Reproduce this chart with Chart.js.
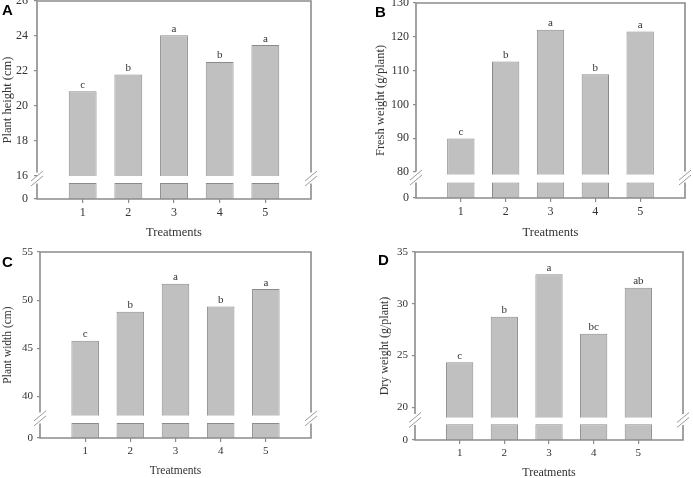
<!DOCTYPE html>
<html><head><meta charset="utf-8">
<script src="https://cdn.jsdelivr.net/npm/chart.js@4.4.0/dist/chart.umd.min.js"></script>
<style>
html,body{margin:0;padding:0;background:#fff;}
#wrap{position:relative;width:693px;height:478px;overflow:hidden;background:#fff;}
canvas{position:absolute;display:block;}
.lbl{position:absolute;font:bold 15px "Liberation Sans",Arial,sans-serif;line-height:15px;color:#000;}
</style></head><body>
<div id="wrap">
  <canvas id="cA" width="346" height="240" style="left:0;top:0"></canvas>
  <canvas id="cB" width="347" height="240" style="left:346px;top:0"></canvas>
  <canvas id="cC" width="346" height="238" style="left:0;top:240px"></canvas>
  <canvas id="cD" width="347" height="238" style="left:346px;top:240px"></canvas>
  <div class="lbl" style="left:2px;top:2px">A</div>
  <div class="lbl" style="left:375px;top:4px">B</div>
  <div class="lbl" style="left:2px;top:254px">C</div>
  <div class="lbl" style="left:378px;top:252px">D</div>
</div>
<script>
// ---- data ----
const treatments = ['1', '2', '3', '4', '5'];

const plantHeight = [20.85, 21.8, 24.05, 22.52, 23.48];
const plantHeightLetters = ['c', 'b', 'a', 'b', 'a'];
const plantHeightTicks = [16, 18, 20, 22, 24, 26];

const freshWeight = [89.9, 112.7, 122.1, 108.9, 121.6];
const freshWeightLetters = ['c', 'b', 'a', 'b', 'a'];
const freshWeightTicks = [80, 90, 100, 110, 120, 130];

const plantWidth = [45.8, 48.8, 51.7, 49.35, 51.15];
const plantWidthLetters = ['c', 'b', 'a', 'b', 'a'];
const plantWidthTicks = [40, 45, 50, 55];

const dryWeight = [24.35, 28.75, 32.85, 27.1, 31.55];
const dryWeightLetters = ['c', 'b', 'a', 'bc', 'ab'];
const dryWeightTicks = [20, 25, 30, 35];

const xTitle = 'Treatments';

// ---- styling / layout ----
const SERIF = '"Liberation Serif","Times New Roman",serif';
const BAR_FILL = '#c0c0c0';
const BAR_EDGE = '#8a8a8a';
const AXIS = '#8c8c8c';
const TEXT = '#333333';

const panels = [
  { id: 'cA', values: plantHeight, letters: plantHeightLetters, ticks: plantHeightTicks, title: 'Plant height (cm)',
    brk: { axisMin: 14.686, gapLow: 15.6, upperMin: 16, max: 26 },
    lay: { yw: 37, xh: 41, top: 1, right: 35 }, tickSize: 12, titleSize: 12.5, yTitlePad: 0, yTickPad: 6, xTitlePad: 0 },
  { id: 'cB', values: freshWeight, letters: freshWeightLetters, ticks: freshWeightTicks, title: 'Fresh weight (g/plant)',
    brk: { axisMin: 72.3, gapLow: 76.9, upperMin: 79.2, max: 130 },
    lay: { yw: 70, xh: 42, top: 3, right: 8 }, tickSize: 12, titleSize: 12.5, yTitlePad: 27.5, yTickPad: 4, xTitlePad: 0 },
  { id: 'cC', values: plantWidth, letters: plantWidthLetters, ticks: plantWidthTicks, title: 'Plant width (cm)',
    brk: { axisMin: 35.7, gapLow: 37.26, upperMin: 38.0, max: 55 },
    lay: { yw: 40, xh: 40, top: 12, right: 35 }, tickSize: 11, titleSize: 11.5, yTitlePad: 1, yTickPad: 4, xTitlePad: 0 },
  { id: 'cD', values: dryWeight, letters: dryWeightLetters, ticks: dryWeightTicks, title: 'Dry weight (g/plant)',
    brk: { axisMin: 16.84, gapLow: 18.35, upperMin: 19.0, max: 35 },
    lay: { yw: 69, xh: 38, top: 12, right: 10 }, tickSize: 11, titleSize: 12, yTitlePad: 31.5, yTickPad: 4, xTitlePad: -2 }
];

// frame with broken left/right axes
const framePlugin = {
  id: 'frame',
  afterDatasetsDraw(chart) {
    const cfg = chart.options.plugins.frame;
    const { ctx, chartArea: { left, right, top, bottom } } = chart;
    const y = chart.scales.y;
    const pUp = y.getPixelForValue(cfg.upperMin);
    const pLow = y.getPixelForValue(cfg.gapLow);
    const mid = (pUp + pLow) / 2 - 1;
    const b0 = mid - 6, b1 = mid + 5;
    ctx.save();
    ctx.strokeStyle = AXIS;
    ctx.lineWidth = 1.6;
    ctx.beginPath();
    ctx.moveTo(left - 0.8, top); ctx.lineTo(right + 0.8, top);
    ctx.moveTo(left - 0.8, bottom); ctx.lineTo(right + 0.8, bottom);
    [left, right].forEach(x => {
      ctx.moveTo(x, top); ctx.lineTo(x, b0);
      ctx.moveTo(x, b1); ctx.lineTo(x, bottom);
    });
    ctx.stroke();
    ctx.lineWidth = 1;
    ctx.strokeStyle = '#9a9a9a';
    ctx.beginPath();
    [left, right].forEach(x => {
      [-2.5, 2.5].forEach(d => {
        ctx.moveTo(x - 6, mid + d + 5);
        ctx.lineTo(x + 6, mid + d - 5);
      });
    });
    ctx.stroke();
    ctx.restore();
  }
};

// significance letters above bars
const lettersPlugin = {
  id: 'sigLetters',
  afterDatasetsDraw(chart) {
    const cfg = chart.options.plugins.sigLetters;
    const { ctx } = chart;
    const meta = chart.getDatasetMeta(0);
    ctx.save();
    ctx.font = cfg.size + 'px ' + SERIF;
    ctx.fillStyle = TEXT;
    ctx.textAlign = 'center';
    ctx.textBaseline = 'alphabetic';
    meta.data.forEach((bar, i) => {
      const t = cfg.letters[i];
      if (!t) return;
      ctx.fillText(t, bar.x, Math.min(bar.y, bar.base) - 3.5);
    });
    ctx.restore();
  }
};

panels.forEach(p => {
  const labels = ['', ...treatments, ''];
  const upper = [null, ...p.values.map(v => [p.brk.upperMin, v]), null];
  const lower = [null, ...p.values.map(() => [p.brk.axisMin, p.brk.gapLow]), null];
  const letters = [null, ...p.letters, null];
  const yTicks = [p.brk.axisMin, ...p.ticks];

  new Chart(document.getElementById(p.id), {
    type: 'bar',
    data: {
      labels,
      datasets: [
        { data: upper, backgroundColor: BAR_FILL, borderColor: BAR_EDGE, borderWidth: 1, grouped: false,
          barPercentage: 1, categoryPercentage: 0.61 },
        { data: lower, backgroundColor: BAR_FILL, borderColor: BAR_EDGE, borderWidth: 1, grouped: false,
          barPercentage: 1, categoryPercentage: 0.61 }
      ]
    },
    options: {
      responsive: false,
      animation: false,
      devicePixelRatio: 1,
      layout: { padding: { left: 0, top: p.lay.top, right: p.lay.right, bottom: 0 } },
      plugins: {
        legend: { display: false },
        tooltip: { enabled: false },
        frame: { upperMin: p.brk.upperMin, gapLow: p.brk.gapLow },
        sigLetters: { letters, size: 11 }
      },
      scales: {
        x: {
          type: 'category',
          offset: false,
          grid: {
            offset: false, drawOnChartArea: false, drawTicks: true, tickLength: 4, lineWidth: 1.2,
            color: ctx => (ctx.index === 0 || ctx.index === labels.length - 1) ? 'rgba(0,0,0,0)' : AXIS
          },
          border: { display: false },
          ticks: { color: TEXT, font: { family: SERIF, size: p.tickSize }, maxRotation: 0, autoSkip: false, padding: 3 },
          title: { display: true, text: xTitle, color: TEXT, font: { family: SERIF, size: p.titleSize, lineHeight: 1.2 },
                   padding: { top: 0, bottom: p.xTitlePad } },
          afterFit(s) { s.height = p.lay.xh; s.paddingLeft = 0; s.paddingRight = 0; }
        },
        y: {
          type: 'linear',
          min: p.brk.axisMin,
          max: p.brk.max,
          afterBuildTicks(s) { s.ticks = yTicks.map(v => ({ value: v })); },
          grid: { drawOnChartArea: false, drawTicks: true, tickLength: 3, color: AXIS, lineWidth: 1.2 },
          border: { display: false },
          ticks: {
            color: TEXT, font: { family: SERIF, size: p.tickSize }, padding: p.yTickPad, autoSkip: false,
            callback: v => (v === p.brk.axisMin ? '0' : String(v))
          },
          title: { display: true, text: p.title, color: TEXT, font: { family: SERIF, size: p.titleSize, lineHeight: 1.2 },
                   padding: { top: p.yTitlePad, bottom: 0 } },
          afterFit(s) { s.width = p.lay.yw; s.paddingTop = 0; s.paddingBottom = 0; }
        }
      }
    },
    plugins: [framePlugin, lettersPlugin]
  });
});
</script>
</body></html>
